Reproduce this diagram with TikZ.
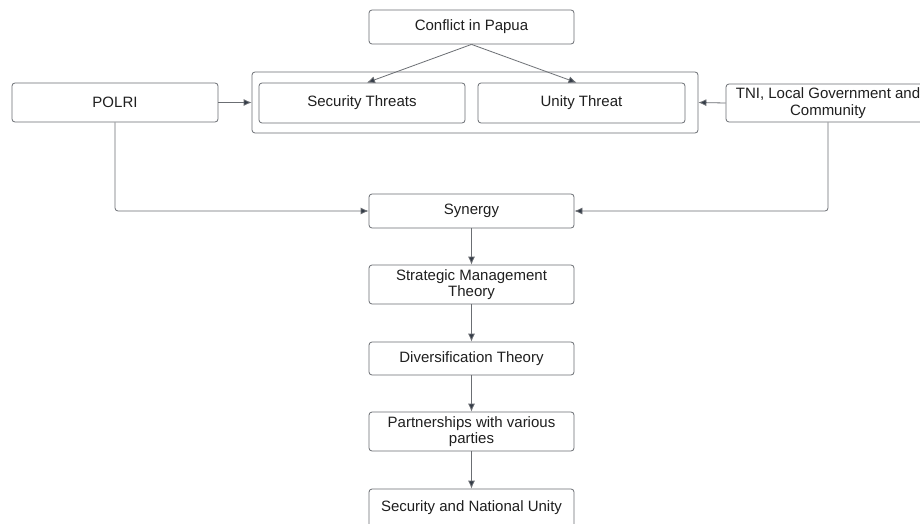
\documentclass[tikz,border=0pt]{standalone}
\usepackage{fontspec}
\setmainfont{Liberation Sans}
\usetikzlibrary{arrows.meta}
\definecolor{edge}{HTML}{6B6E73}
\definecolor{tip}{HTML}{333B47}
\tikzset{
  box/.style={draw=edge, line width=0.8pt, rounded corners=3pt, align=center, inner sep=0pt,
    font=\fontsize{15}{16.5}\selectfont, text=black!88, minimum width=205pt},
  conn/.style={draw=edge, line width=0.8pt, -{Latex[length=8pt,width=7pt,fill=tip]}},
}
\begin{document}
\begin{tikzpicture}[x=1pt,y=-1pt]
\useasboundingbox[fill=white] (0,0) rectangle (920,524);
\node[box, minimum height=34pt] (conflict) at (471.5,27) {Conflict in Papua};
\node[box, minimum width=446pt, minimum height=61pt] (group) at (475,102.5) {};
\node[box, minimum width=206pt, minimum height=40pt] (sec) at (362,103) {Security Threats};
\node[box, minimum width=207pt, minimum height=40pt] (unity) at (581.5,103) {Unity Threat};
\node[box, minimum width=206pt, minimum height=39pt] (polri) at (115,102.5) {POLRI};
\node[box, minimum width=204pt, minimum height=38pt] (tni) at (828,103) {TNI, Local Government and\\Community};
\node[box, minimum height=34pt] (syn) at (471.5,211) {Synergy};
\node[box, minimum height=39pt] (strat) at (471.5,284.5) {Strategic Management\\Theory};
\node[box, minimum height=33pt] (div) at (471.5,358.5) {Diversification Theory};
\node[box, minimum height=39pt] (part) at (471.5,431.5) {Partnerships with various\\parties};
\node[box, minimum height=38pt] (secnat) at (471.5,508) {Security and National Unity};

\draw[conn] (conflict.south) -- ([xshift=5pt]sec.north);
\draw[conn] (conflict.south) -- ([xshift=-5pt]unity.north);
\draw[conn] (polri.east) -- (group.west);
\draw[conn] (tni.west) -- (group.east);
\draw[conn, rounded corners=3pt] (polri.south) |- (syn.west);
\draw[conn, rounded corners=3pt] (tni.south) |- (syn.east);
\draw[conn] (syn) -- (strat);
\draw[conn] (strat) -- (div);
\draw[conn] (div) -- (part);
\draw[conn] (part) -- (secnat);
\end{tikzpicture}
\end{document}
